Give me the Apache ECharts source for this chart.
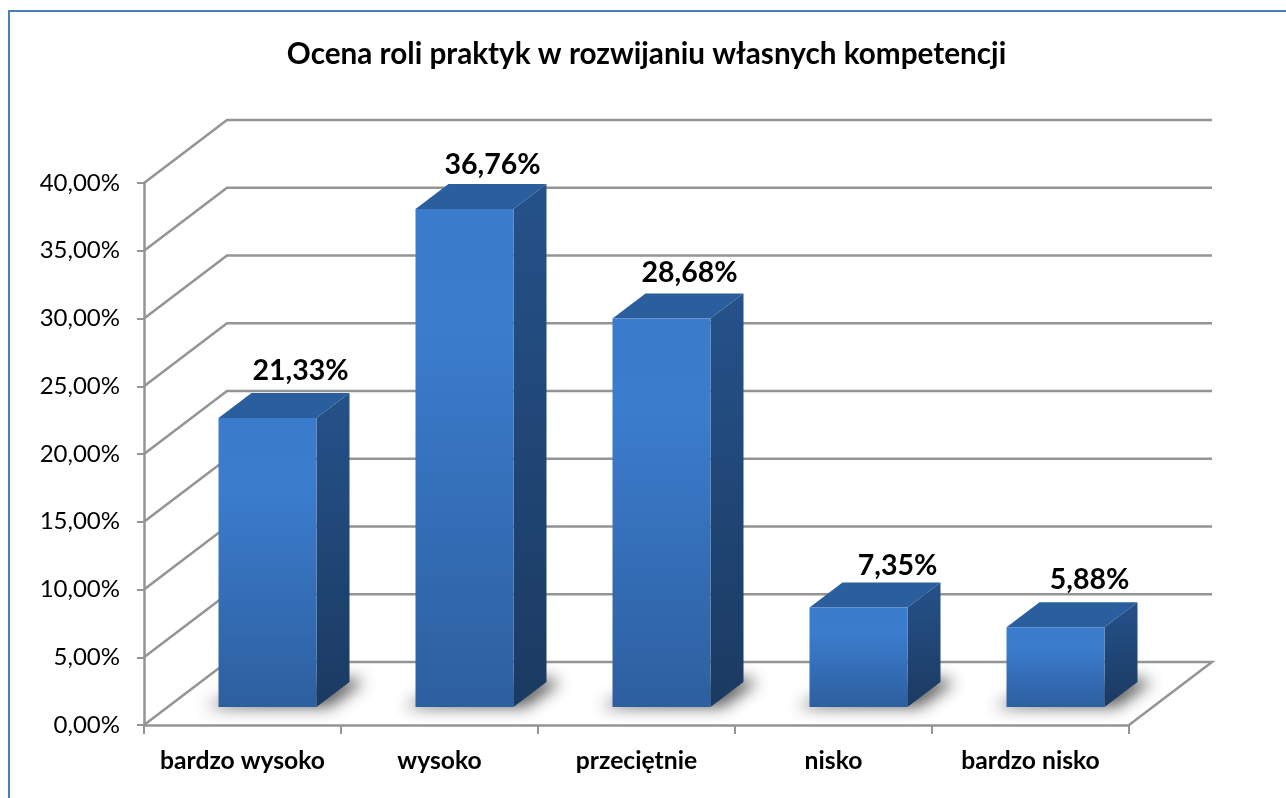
<!DOCTYPE html>
<html><head><meta charset="utf-8">
<style>html,body{margin:0;padding:0;background:#fff}#c{width:1286px;height:798px}</style>
<script src="https://cdn.jsdelivr.net/npm/echarts@6/dist/echarts.min.js"></script>
</head><body><div id="c"></div>
<script>
const categories = ['bardzo wysoko','wysoko','przeciętnie','nisko','bardzo nisko'];
const shares = [21.33,36.76,28.68,7.35,5.88];
const gridTicks = [0,5,10,15,20,25,30,35,40];

const FONT = 'Lato, "Open Sans", sans-serif';
const DEPTH = {x:83, y:63};      // wall depth
const BASE = {x:25, y:18};       // bar base inset on floor
const SIDE = {x:33, y:25};       // bar depth
const BAR_W = 98;
const LABEL_NUDGE = [[0,1.5],[-5,5],[-5,3.5],[6,7.5],[1,1.5]];
const SHADOW_SHIFT = 3000;
const pct = v => v.toFixed(2).replace('.',',') + '%';

const chart = echarts.init(document.getElementById('c'), null, {renderer:'canvas'});
const grad = (a,b,x2,y2) => new echarts.graphic.LinearGradient(0,0,x2,y2,[{offset:0,color:a},{offset:1,color:b}]);

function renderWall(params, api){
  const v = api.value(0);
  const p = api.coord([0,v]);
  const r = params.coordSys.x + params.coordSys.width;
  const l = params.coordSys.x;
  const pts = [[l,p[1]],[l+DEPTH.x,p[1]-DEPTH.y],[r+DEPTH.x,p[1]-DEPTH.y]];
  if(v===0) pts.push([r,p[1]]);
  return {type:'polyline',shape:{points:pts},style:{stroke:'#949494',lineWidth:2.5,fill:null},silent:true};
}
function renderBar(params, api){
  const i = api.value(0), v = api.value(1);
  const c0 = api.coord([i,0]), c1 = api.coord([i,v]);
  const xl = c0[0]-BAR_W/2+BASE.x, xr = xl+BAR_W;
  const yb = c0[1]-BASE.y, yt = c1[1]-BASE.y;
  const sx = SIDE.x, sy = SIDE.y;
  const nudge = LABEL_NUDGE[i];
  const shadowPts = [[xl-12,yb],[xr+12,yb],[xr+sx+14,yb-sy],[xr+sx,yb-sy-4],[xl+6,yb-8]]
    .map(p=>[p[0]-SHADOW_SHIFT,p[1]]);
  return {type:'group',children:[
    {type:'polygon',shape:{points:shadowPts},
     style:{fill:'#000',shadowBlur:16,shadowColor:'rgba(60,60,60,0.85)',shadowOffsetX:SHADOW_SHIFT}},
    {type:'polygon',shape:{points:[[xl,yt],[xl+sx,yt-sy],[xr+sx,yt-sy],[xr,yt]]},
     style:{fill:'#2b5e9c'}},
    {type:'polygon',shape:{points:[[xr,yt],[xr+sx,yt-sy],[xr+sx,yb-sy],[xr,yb]]},
     style:{fill:grad('#25528a','#1b3a61',0,1)}},
    {type:'rect',shape:{x:xl,y:yt,width:BAR_W,height:yb-yt},
     style:{fill:new echarts.graphic.LinearGradient(0,0,0,1,[{offset:0,color:'#3a7bcb'},{offset:0.25,color:'#3b7ccd'},{offset:1,color:'#2d5f9f'}])}},
    {type:'text',x:xl+BAR_W/2+sx+nudge[0],y:yt-sy-24+nudge[1],
     style:{text:pct(v),font:'bold 28.5px '+FONT,fill:'#000',align:'center',verticalAlign:'middle'}}
  ]};
}

chart.setOption({
  animation:false,
  backgroundColor:'#fff',
  title:{text:'Ocena roli praktyk w rozwijaniu własnych kompetencji',left:641.5,top:34,textAlign:'center',
    textStyle:{fontFamily:FONT,fontWeight:'bold',fontSize:29.7,color:'#000'}},
  graphic:[{type:'rect',shape:{x:9,y:11,width:1400,height:1000},silent:true,z:-1,
    style:{fill:'none',stroke:'#4a7ebb',lineWidth:2}}],
  grid:{left:144,right:157,top:183,bottom:73},
  xAxis:{type:'category',data:categories,
    axisLine:{lineStyle:{color:'#949494',width:2.5}},
    axisTick:{show:true,alignWithLabel:false,length:9,lineStyle:{color:'#949494',width:2}},
    axisLabel:{interval:0,margin:24,fontFamily:FONT,fontWeight:'bold',fontSize:24.7,color:'#000'},
    splitLine:{show:false}},
  yAxis:{type:'value',min:0,max:40,interval:5,
    axisLine:{show:true,lineStyle:{color:'#949494',width:2.5}},
    axisTick:{show:true,length:7,lineStyle:{color:'#949494',width:2}},
    axisLabel:{margin:24,padding:[8,0,0,0],fontFamily:FONT,fontSize:24,color:'#000',formatter:v=>v.toFixed(2).replace('.',',')+'%'},
    splitLine:{show:false}},
  series:[
    {type:'custom',name:'siatka',coordinateSystem:'cartesian2d',data:gridTicks.map(v=>[v]),encode:{y:0},clip:false,z:1,renderItem:renderWall,silent:true},
    {type:'custom',name:'Ocena',coordinateSystem:'cartesian2d',data:shares.map((v,i)=>[i,v]),encode:{x:0,y:1},clip:false,z:2,renderItem:renderBar,silent:true}
  ]
});
</script></body></html>
